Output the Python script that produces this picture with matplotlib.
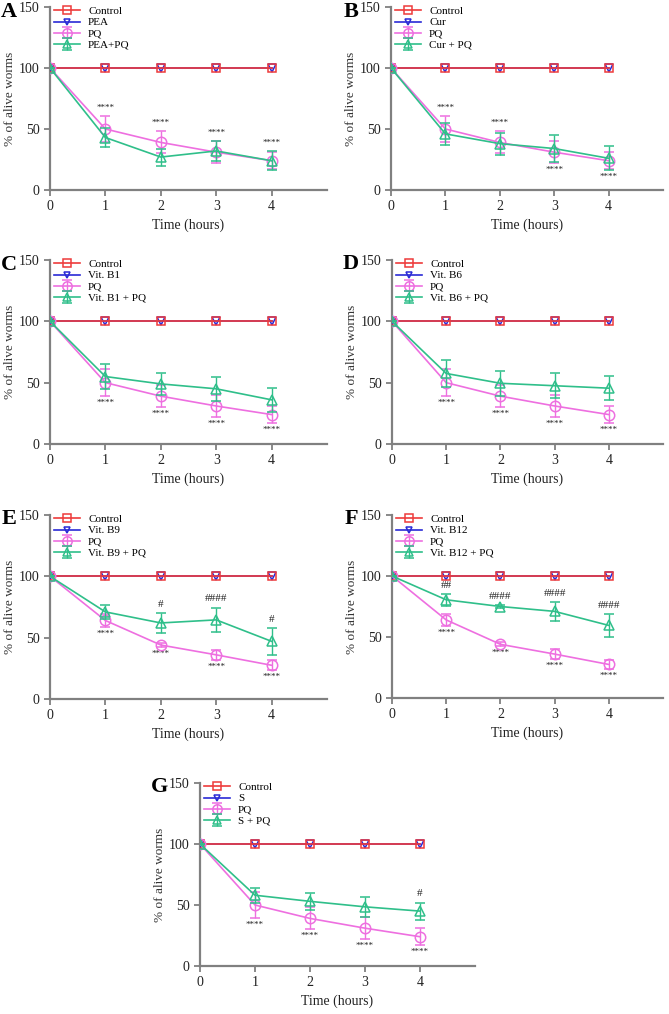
import matplotlib
matplotlib.use("Agg")
import matplotlib.pyplot as plt
import numpy as np

plt.rcParams['font.family'] = ['Liberation Serif', 'DejaVu Serif']

time_h = [0, 1, 2, 3, 4]
x_ticks = [0, 1, 2, 3, 4]
y_ticks = [0, 50, 100, 150]

control_vals = [100, 100, 100, 100, 100]
treat_only_vals = [100, 100, 100, 100, 100]

# PQ series (panels A-D, G) and (panels E-F)
pq_vals = [100, 50, 39, 31, 24]
pq_err = [0, 11, 9, 9, 7]
pq_vals_ef = [100, 64, 44, 36, 27.5]
pq_err_ef = [0, 5, 1.5, 4, 4]

# Combination series
pea_pq_vals = [100, 43, 27, 32, 24]
pea_pq_err = [0, 8, 7, 8, 8]
cur_pq_vals = [100, 46, 38, 34, 26]
cur_pq_err = [0, 9, 9, 11, 10]
b1_pq_vals = [100, 55, 49, 45, 36]
b1_pq_err = [0, 10, 9, 10, 10]
b6_pq_vals = [100, 57.5, 49.5, 47.5, 45.5]
b6_pq_err = [0, 11, 10, 10, 10]
b9_pq_vals = [100, 71, 62, 64.5, 47]
b9_pq_err = [0, 6, 8, 10, 11]
b12_pq_vals = [100, 80.5, 75, 71, 59.5]
b12_pq_err = [0, 5, 1.5, 7.5, 9.5]
s_pq_vals = [100, 58, 53, 48.5, 45]
s_pq_err = [0, 6, 7, 8, 7]

labels_A = ["Control", "PEA", "PQ", "PEA+PQ"]
labels_B = ["Control", "Cur", "PQ", "Cur + PQ"]
labels_C = ["Control", "Vit. B1", "PQ", "Vit. B1 + PQ"]
labels_D = ["Control", "Vit. B6", "PQ", "Vit. B6 + PQ"]
labels_E = ["Control", "Vit. B9", "PQ", "Vit. B9 + PQ"]
labels_F = ["Control", "Vit. B12", "PQ", "Vit. B12 + PQ"]
labels_G = ["Control", "S", "PQ", "S + PQ"]

# significance marks (stars vs control; hashes vs PQ) for hours 1-4
stars_side_A = ["above", "above", "above", "above"]
stars_side_B = ["above", "above", "below", "below"]
stars_side_below = ["below", "below", "below", "below"]
hash_none = ["", "", "", ""]
hash_E = ["", "#", "####", "#"]
hash_F = ["##", "####", "####", "####"]
hash_G = ["", "", "", "#"]

RED = "#ee3b3b"
BLUE = "#2a2ad6"
PINK = "#ee6fe0"
GREEN = "#2fbf8a"
AXC = "#808080"

W, H = 669, 1014
fig = plt.figure(figsize=(W / 100, H / 100), dpi=100)


def ax_at(left_px, top_px, right_px, bottom_px):
    return fig.add_axes([left_px / W, 1 - bottom_px / H,
                         (right_px - left_px) / W, (bottom_px - top_px) / H])


panels = [
    ("A", (50, 7, 327, 190), labels_A, pq_vals, pq_err, pea_pq_vals, pea_pq_err, stars_side_A, hash_none, (9, 12)),
    ("B", (391, 7, 663, 190), labels_B, pq_vals, pq_err, cur_pq_vals, cur_pq_err, stars_side_B, hash_none, (351, 12)),
    ("C", (50, 260, 327, 444), labels_C, pq_vals, pq_err, b1_pq_vals, b1_pq_err, stars_side_below, hash_none, (9, 265)),
    ("D", (392, 260, 663, 444), labels_D, pq_vals, pq_err, b6_pq_vals, b6_pq_err, stars_side_below, hash_none, (351, 264)),
    ("E", (50, 515, 327, 699), labels_E, pq_vals_ef, pq_err_ef, b9_pq_vals, b9_pq_err, stars_side_below, hash_E, (9, 519)),
    ("F", (392, 515, 663, 698), labels_F, pq_vals_ef, pq_err_ef, b12_pq_vals, b12_pq_err, stars_side_below, hash_F, (351, 519)),
    ("G", (200, 783, 475, 966), labels_G, pq_vals, pq_err, s_pq_vals, s_pq_err, stars_side_below, hash_G, (159, 787)),
]

for letter, box, labels, pqv, pqe, cv, ce, star_side, hashes, lpos in panels:
    ax = ax_at(*box)
    lw = 1.2
    h_ctrl, = ax.plot(time_h, control_vals, color=RED, lw=lw, marker='s', ms=6.3,
                      mfc='none', mec=RED, mew=1.1, zorder=4)
    h_trt, = ax.plot(time_h, treat_only_vals, color=BLUE, lw=lw, marker='v', ms=5.5,
                     mfc='none', mec=BLUE, mew=1.1, zorder=3)
    h_pq = ax.errorbar(time_h, pqv, yerr=pqe, color=PINK, lw=lw, marker='o', ms=7.5,
                       mfc='none', mec=PINK, mew=1.1, capsize=3.5, elinewidth=1.0,
                       capthick=1.0, zorder=5)
    h_cmb = ax.errorbar(time_h, cv, yerr=ce, color=GREEN, lw=lw, marker='^', ms=7,
                        mfc='none', mec=GREEN, mew=1.1, capsize=3.5, elinewidth=1.0,
                        capthick=1.0, zorder=6)
    ax.set_xlim(0, 5)
    ax.set_ylim(0, 150)
    ax.set_xticks(x_ticks)
    ax.set_yticks(y_ticks)
    for s in ['top', 'right']:
        ax.spines[s].set_visible(False)
    for s in ['left', 'bottom']:
        ax.spines[s].set_color(AXC)
        ax.spines[s].set_linewidth(1.6)
    ax.tick_params(colors=AXC, width=1.3, length=4, labelsize=10, labelcolor='#222222')
    ax.set_xlabel("Time (hours)", fontsize=10, color='#222222', labelpad=4)
    ax.set_ylabel("% of alive worms", fontsize=9.5, color='#333333', labelpad=2)

    ax.legend([h_ctrl, h_trt, h_pq, h_cmb], labels, loc='upper left',
              bbox_to_anchor=(0.005, 1.015), frameon=False, fontsize=8,
              handlelength=2.4, handletextpad=0.7, labelspacing=0.13,
              borderaxespad=0.0, borderpad=0.2, markerscale=0.9)

    for i, t in enumerate(time_h[1:]):
        k = i + 1
        side = star_side[i]
        if side == "above":
            yv = max(pqv[k] + pqe[k], cv[k] + ce[k])
            ax.annotate("****", (t, yv), xytext=(0, 3), textcoords='offset points',
                        ha='center', va='bottom', fontsize=6.5, color='#222222')
        else:
            yv = min(pqv[k] - pqe[k], cv[k] - ce[k])
            ax.annotate("****", (t, yv), xytext=(0, -2), textcoords='offset points',
                        ha='center', va='top', fontsize=6.5, color='#222222')
        if hashes[i]:
            ax.annotate(hashes[i], (t, cv[k] + ce[k]), xytext=(0, 3),
                        textcoords='offset points', ha='center', va='bottom',
                        fontsize=8, color='#222222')

    fig.text(lpos[0] / W, 1 - lpos[1] / H, letter, fontsize=16, fontweight='bold',
             ha='center', va='center')

fig.savefig("out.png", dpi=100)
